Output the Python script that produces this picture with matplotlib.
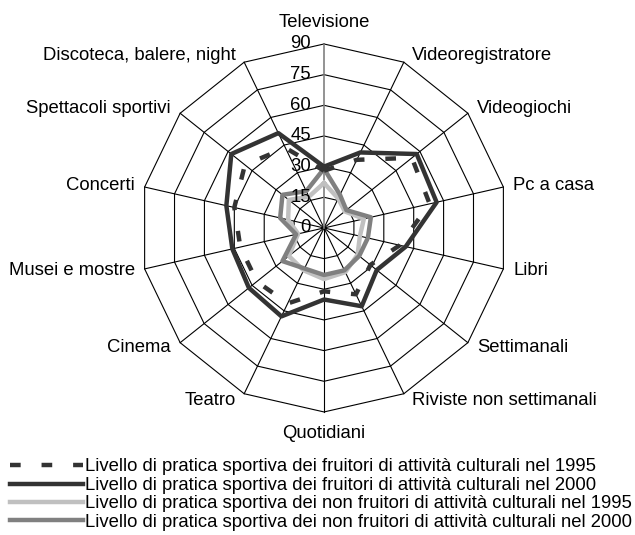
import numpy as np
import matplotlib
matplotlib.use("Agg")
from matplotlib import pyplot as plt
from matplotlib.lines import Line2D

plt.rcParams['font.family'] = ['Liberation Sans', 'DejaVu Sans']

categories = ["Televisione", "Videoregistratore", "Videogiochi", "Pc a casa", "Libri",
              "Settimanali", "Riviste non settimanali", "Quotidiani", "Teatro", "Cinema",
              "Musei e mostre", "Concerti", "Spettacoli sportivi", "Discoteca, balere, night"]

fruitori_1995 = [28, 37, 55, 53, 38, 29, 36, 31, 41, 42, 42, 45, 49.5, 43.5]
fruitori_2000 = [30, 41, 58, 56.5, 41, 33, 42.5, 35, 48, 47, 46, 49, 58, 51.5]
non_fruitori_1995 = [22, 16, 13, 20, 18, 21, 24, 25, 23, 22, 13, 18, 22, 17]
non_fruitori_2000 = [29, 18, 14, 23.5, 22, 22, 23, 23, 22, 26, 14, 22, 26, 20]

ticks = [0, 15, 30, 45, 60, 75, 90]

labels_legend = [
    "Livello di pratica sportiva dei fruitori di attività culturali nel 1995",
    "Livello di pratica sportiva dei fruitori di attività culturali nel 2000",
    "Livello di pratica sportiva dei non fruitori di attività culturali nel 1995",
    "Livello di pratica sportiva dei non fruitori di attività culturali nel 2000",
]

FS = 13.3
DASH = (0, (2.4, 4.7))

n = len(categories)
angles = np.linspace(0, 2 * np.pi, n, endpoint=False)
closed = np.append(angles, angles[0])

def close(v):
    return list(v) + [v[0]]

fig = plt.figure(figsize=(6.35, 5.35), dpi=100)
ax = fig.add_axes([0.2205, 0.2299, 0.5795, 0.688], projection='polar')
ax.set_theta_offset(np.pi / 2)
ax.set_theta_direction(-1)
ax.set_ylim(0, 90)
ax.axis('off')

# polygon grid
for t in ticks[1:]:
    ax.plot(closed, [t] * (n + 1), color='black', lw=0.8, clip_on=False)
for i, a in enumerate(angles):
    if i == 0:
        continue
    ax.plot([a, a], [0, 90], color='black', lw=0.8, clip_on=False)
ax.plot([0, 0], [0, 90], color='#808080', lw=1.2, clip_on=False)

# series
ax.plot(closed, close(non_fruitori_1995), color='#c0c0c0', lw=3.2, clip_on=False)
ax.plot(closed, close(non_fruitori_2000), color='#808080', lw=3.2, clip_on=False)
ax.plot(closed, close(fruitori_2000), color='#333333', lw=3.2, clip_on=False)
ax.plot(closed, close(fruitori_1995), color='#333333', lw=3.2,
        linestyle=DASH, clip_on=False)

# radial tick labels
for t in ticks:
    ax.annotate(str(t), xy=(0, t), xytext=(-13, 0), textcoords='offset pixels',
                ha='right', va='center', fontsize=FS)

# category labels
for a, lab in zip(angles, categories):
    s, c = np.sin(a), np.cos(a)
    if abs(s) < 1e-6:
        ha = 'center'
        va = 'bottom' if c > 0 else 'top'
        off = (0, 13 if c > 0 else -13)
    else:
        ha = 'left' if s > 0 else 'right'
        va = 'center'
        off = (np.sign(s) * (7 + 3 * abs(s)), 7 * c)
    ax.annotate(lab, xy=(a, 90), xytext=off, textcoords='offset pixels',
                ha=ha, va=va, fontsize=FS)

handles = [
    Line2D([], [], color='#333333', lw=3.2, linestyle=DASH),
    Line2D([], [], color='#333333', lw=3.2),
    Line2D([], [], color='#c0c0c0', lw=3.2),
    Line2D([], [], color='#808080', lw=3.2),
]
fig.legend(handles, labels_legend, loc='upper left', bbox_to_anchor=(0.015, 0.143),
           frameon=False, fontsize=FS, handlelength=4.0, handletextpad=0.1,
           labelspacing=0.08, borderpad=0, borderaxespad=0)

fig.savefig("out.png", dpi=100)
